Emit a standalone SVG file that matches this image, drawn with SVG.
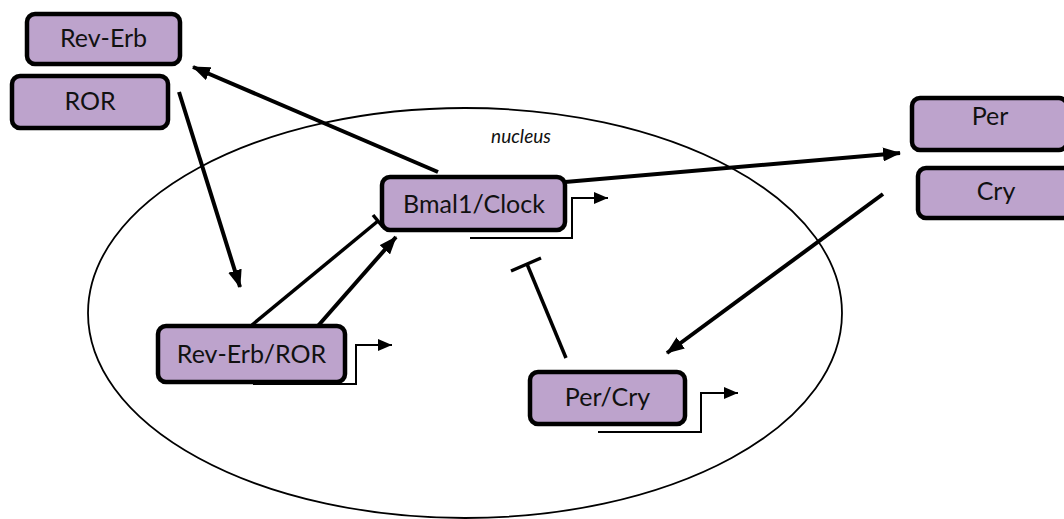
<svg xmlns="http://www.w3.org/2000/svg" width="1064" height="519" viewBox="0 0 1064 519">
  <style>
    .box { fill: #BDA3CC; stroke: #000; stroke-width: 4.5; }
    .lbl { font-family: Lato, "Open Sans", "Liberation Sans", sans-serif; font-size: 25px; fill: #111; text-anchor: middle; }
    .edge { stroke: #000; stroke-width: 4; fill: none; }
    .inh { stroke: #000; stroke-width: 3.5; fill: none; }
    .prom { stroke: #000; stroke-width: 2; fill: none; }
  </style>
  <defs>
    <marker id="head" markerUnits="userSpaceOnUse" markerWidth="18" markerHeight="14" refX="17" refY="7" orient="auto">
      <path d="M0,0 L18,7 L0,14 z" fill="#000"/>
    </marker>
    <marker id="head-sm" markerUnits="userSpaceOnUse" markerWidth="14" markerHeight="12" refX="14" refY="6" orient="auto">
      <path d="M0,0 L14,6 L0,12 z" fill="#000"/>
    </marker>
  </defs>

  <!-- nucleus -->
  <g id="nucleus">
    <ellipse cx="465" cy="313" rx="377" ry="205" fill="none" stroke="#000" stroke-width="1.8"/>
    <text x="521" y="143" font-family="Lato, 'Open Sans', 'Liberation Sans', sans-serif" font-size="19" font-style="italic" text-anchor="middle" fill="#111">nucleus</text>
  </g>

  <!-- regulatory links -->
  <g id="connectors">
    <line class="edge" x1="438" y1="172" x2="193" y2="67" marker-end="url(#head)"/>
    <line class="edge" x1="179" y1="92" x2="240" y2="287" marker-end="url(#head)"/>
    <line class="edge" x1="565" y1="182" x2="900" y2="153" marker-end="url(#head)"/>
    <line class="edge" x1="883" y1="194" x2="667" y2="353" marker-end="url(#head)"/>
    <line class="edge" x1="317" y1="327" x2="396" y2="237" marker-end="url(#head)"/>
    <!-- repression of Bmal1/Clock by Rev-Erb -->
    <line class="inh" x1="252" y1="325" x2="378" y2="221"/>
    <line class="inh" x1="373" y1="215" x2="383" y2="227"/>
    <!-- repression by Per/Cry -->
    <line class="inh" x1="566" y1="358" x2="527" y2="264"/>
    <line class="inh" x1="511" y1="271" x2="541" y2="258"/>
    <!-- promoters -->
    <polyline class="prom" points="470,238 572,238 572,198 608,198" marker-end="url(#head-sm)"/>
    <polyline class="prom" points="253,384 356,384 356,345 392,345" marker-end="url(#head-sm)"/>
    <polyline class="prom" points="598,432 701,432 701,393 738,393" marker-end="url(#head-sm)"/>
  </g>

  <g id="rev-erb">
    <rect class="box" x="27" y="14" width="153" height="50" rx="8"/>
    <text class="lbl" x="103.5" y="47">Rev-Erb</text>
  </g>
  <g id="ror">
    <rect class="box" x="12" y="76" width="156" height="52" rx="8"/>
    <text class="lbl" x="90" y="110">ROR</text>
  </g>
  <g id="bmal1-clock">
    <rect class="box" x="382" y="177" width="183" height="53" rx="8"/>
    <text class="lbl" x="474" y="213">Bmal1/Clock</text>
  </g>
  <g id="rev-erb-ror">
    <rect class="box" x="158" y="326" width="187" height="56" rx="8"/>
    <text class="lbl" x="251.5" y="363">Rev-Erb/ROR</text>
  </g>
  <g id="per-cry">
    <rect class="box" x="530" y="372" width="155" height="52" rx="8"/>
    <text class="lbl" x="607.5" y="406">Per/Cry</text>
  </g>
  <g id="per">
    <rect class="box" x="912" y="98" width="155" height="52" rx="8"/>
    <text class="lbl" x="990" y="125">Per</text>
  </g>
  <g id="cry">
    <rect class="box" x="918" y="168" width="155" height="50" rx="8"/>
    <text class="lbl" x="996" y="200">Cry</text>
  </g>
</svg>
